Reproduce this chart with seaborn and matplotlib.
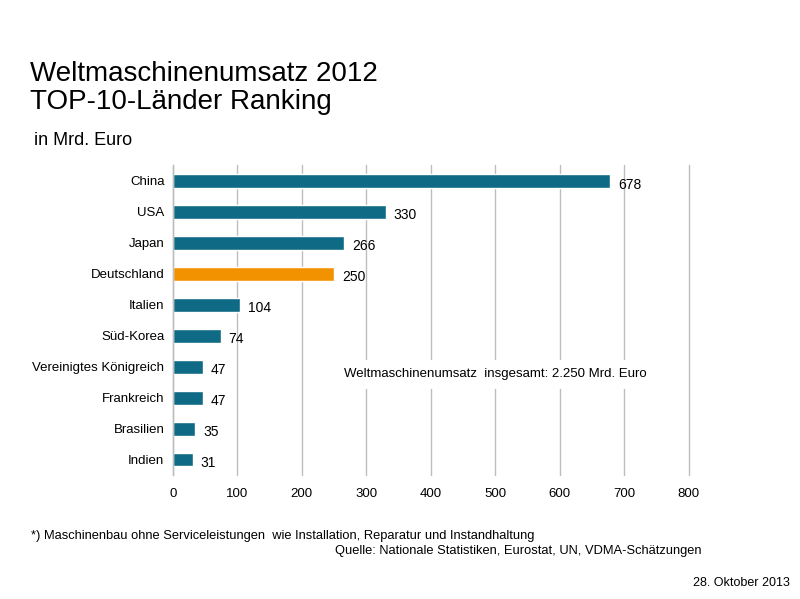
import matplotlib
import pandas as pd
import seaborn as sns

matplotlib.use("Agg")
import matplotlib.pyplot as plt


COUNTRIES = [
    "China", "USA", "Japan", "Deutschland", "Italien", "Süd-Korea",
    "Vereinigtes Königreich", "Frankreich", "Brasilien", "Indien",
]
SALES = [678, 330, 266, 250, 104, 74, 47, 47, 35, 31]
HIGHLIGHT = "Deutschland"
X_TICKS = [0, 100, 200, 300, 400, 500, 600, 700, 800]

TEAL = "#0F6A85"
ORANGE = "#F39200"
FONT = ["Liberation Sans", "DejaVu Sans"]


def main() -> None:
    sns.set_theme(style="white")
    plt.rcParams["font.family"] = FONT
    plt.rcParams["figure.facecolor"] = "white"
    plt.rcParams["text.color"] = "black"

    df = pd.DataFrame({"land": COUNTRIES, "umsatz": SALES})
    palette = {c: (ORANGE if c == HIGHLIGHT else TEAL) for c in COUNTRIES}

    fig = plt.figure(figsize=(8, 5.99), dpi=100)
    ax = fig.add_axes([0.216, 0.207, 0.645, 0.517])

    sns.barplot(
        data=df, x="umsatz", y="land", hue="land", palette=palette,
        order=COUNTRIES, width=0.45, legend=False, ax=ax, saturation=1,
    )

    ax.set_xlim(0, 800)
    ax.set_ylim(9.5, -0.5)
    ax.set_xticks(X_TICKS)
    ax.set_xticklabels([str(t) for t in X_TICKS])
    ax.xaxis.grid(True, color="#BDBDBD", linewidth=1.0)
    for line in ax.get_xgridlines():
        line.set_clip_on(False)
    ax.set_axisbelow(True)
    for side in ["top", "right", "bottom"]:
        ax.spines[side].set_visible(False)
    ax.spines["left"].set_color("#BDBDBD")
    ax.spines["left"].set_linewidth(1.0)
    ax.tick_params(axis="both", length=0, labelsize=9.5, colors="black")
    ax.tick_params(axis="x", pad=9)
    ax.tick_params(axis="y", pad=6)
    ax.set_xlabel("")
    ax.set_ylabel("")

    for i, v in enumerate(SALES):
        ax.text(v + 12, i + 0.12, str(v), va="center", ha="left", fontsize=10)

    ax.text(
        500, 6.25, "Weltmaschinenumsatz  insgesamt: 2.250 Mrd. Euro",
        ha="center", va="center", fontsize=9.5,
        bbox={"facecolor": "white", "edgecolor": "none", "pad": 6},
    )

    fig.text(0.0375, 0.853, "Weltmaschinenumsatz 2012\nTOP-10-Länder Ranking",
             ha="left", va="center", fontsize=20, linespacing=1.12)
    fig.text(0.043, 0.765, "in Mrd. Euro", ha="left", va="center", fontsize=13)
    fig.text(0.039, 0.105,
             "*) Maschinenbau ohne Serviceleistungen  wie Installation, Reparatur und Instandhaltung",
             ha="left", va="center", fontsize=9.3)
    fig.text(0.419, 0.08, "Quelle: Nationale Statistiken, Eurostat, UN, VDMA-Schätzungen",
             ha="left", va="center", fontsize=9.3)
    fig.text(0.987, 0.027, "28. Oktober 2013", ha="right", va="center", fontsize=9)

    fig.savefig("out.png", dpi=100)
    plt.close(fig)


if __name__ == "__main__":
    main()
